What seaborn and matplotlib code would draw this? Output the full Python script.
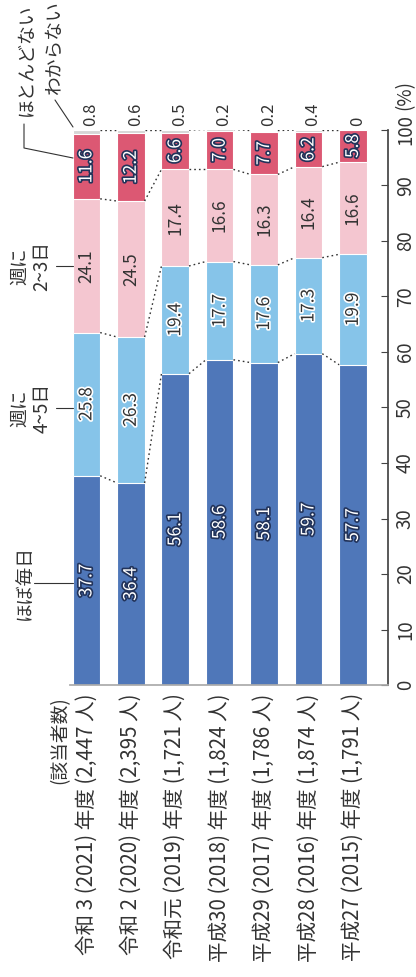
import numpy as np
import pandas as pd
import matplotlib
matplotlib.use("Agg")
import matplotlib.pyplot as plt
import matplotlib.patheffects as pe
import seaborn as sns

sns.set_theme(style="white")
plt.rcParams["font.family"] = ["Noto Sans CJK JP", "DejaVu Sans"]

# Survey years (row order: newest first) and respondent counts
years = ["令和 3 (2021) 年度", "令和 2 (2020) 年度", "令和元 (2019) 年度",
         "平成30 (2018) 年度", "平成29 (2017) 年度", "平成28 (2016) 年度",
         "平成27 (2015) 年度"]
counts = ["2,447", "2,395", "1,721", "1,824", "1,786", "1,874", "1,791"]

# Share of answers (%) per year
almost_daily = [37.7, 36.4, 56.1, 58.6, 58.1, 59.7, 57.7]
four_five = [25.8, 26.3, 19.4, 17.7, 17.6, 17.3, 19.9]
two_three = [24.1, 24.5, 17.4, 16.6, 16.3, 16.4, 16.6]
rarely = [11.6, 12.2, 6.6, 7.0, 7.7, 6.2, 5.8]
unknown = [0.8, 0.6, 0.5, 0.2, 0.2, 0.4, 0.0]

series_names = ["ほぼ毎日", "週に4~5日", "週に2~3日", "ほとんどない", "わからない"]
series_vals = [almost_daily, four_five, two_three, rarely, unknown]
colors = ["#4f77b9", "#86c4e9", "#f4c6d0", "#dc5873", "#d6d6d6"]

cat_labels = [f"{y} ({c} 人)" for y, c in zip(years, counts)]
vals = np.array(series_vals)
cum = np.cumsum(vals, axis=0)

fig = plt.figure(figsize=(4.16, 9.77), dpi=100)
ax = fig.add_axes([70 / 416, 292 / 977, 318 / 416, 555 / 977])

bar_w = 0.62
# stacked bars: draw cumulative totals from the top segment down
for k in range(len(series_names) - 1, -1, -1):
    df = pd.DataFrame({"cat": cat_labels, "val": cum[k]})
    sns.barplot(data=df, x="cat", y="val", order=cat_labels, color=colors[k],
                width=bar_w, saturation=1, edgecolor="white", linewidth=0.8,
                ax=ax, zorder=2)

ax.set_ylim(0, 100)
ax.set_xlim(-0.37, 6.79)
ax.set_xlabel("")
ax.set_ylabel("")

# dotted connectors between neighbouring bars
for k in [0, 1, 2, 4]:
    for i in range(len(cat_labels) - 1):
        ax.plot([i + bar_w / 2, i + 1 - bar_w / 2], [cum[k][i], cum[k][i + 1]],
                ls=(0, (1.2, 2.2)), color="#333333", lw=1.0, zorder=3)

# value labels inside the segments
dark_stroke = [pe.withStroke(linewidth=2.4, foreground="#22335a")]
light_stroke = [pe.withStroke(linewidth=2.4, foreground="white")]
styles = [("white", dark_stroke), ("#333333", light_stroke),
          ("#333333", None), ("white", dark_stroke)]
for k in range(4):
    col, eff = styles[k]
    for i in range(len(cat_labels)):
        mid = cum[k][i] - vals[k][i] / 2
        t = ax.text(i, mid, f"{vals[k][i]:.1f}", rotation=90, ha="center",
                    va="center", fontsize=12.5, color=col, zorder=4)
        if eff:
            t.set_path_effects(eff)
for i in range(len(cat_labels)):
    txt = "0" if unknown[i] == 0 else f"{unknown[i]:.1f}"
    ax.text(i + 0.1, 100.8, txt, rotation=90, ha="center", va="bottom",
            fontsize=12, color="#333333")

# axis styling: value axis on the right, category labels below
sns.despine(ax=ax, left=True, top=True, right=False, bottom=False)
ax.yaxis.tick_right()
ax.spines["right"].set_color("#444444")
ax.spines["bottom"].set_color("#aaaaaa")
ax.set_yticks(np.arange(0, 101, 10))
ax.set_yticklabels([str(v) for v in range(0, 101, 10)], rotation=90,
                   va="center", fontsize=13.5, color="#333333")
ax.tick_params(axis="y", direction="in", length=5, width=0.8, color="#444444",
               pad=5, right=True, left=False)
ax.tick_params(axis="x", length=0, pad=6)
ax.set_xticks(range(len(cat_labels)))
ax.set_xticklabels(cat_labels, rotation=90, va="top", ha="center",
                   fontsize=14.8, color="#333333")
ax.grid(False)


def fy(py):
    return 1 - py / 977


def fx(px):
    return px / 416


# unit next to the top tick
fig.text(fx(405), fy(110), "(%)", rotation=90, ha="center", va="bottom",
         fontsize=13.5, color="#333333")

# header of the category labels
fig.text(fx(60), fy(696), "(該当者数)", rotation=90, ha="center",
         va="top", fontsize=13.5, color="#333333")

# series names with leader lines to the first bar
lc = "#333333"
fs = 13.5
fig.text(fx(24), fy(583), "ほぼ毎日", rotation=90, ha="center", va="center",
         fontsize=fs, color=lc)
fig.add_artist(plt.Line2D([fx(34), fx(73)], [fy(583), fy(583)], color=lc, lw=0.8))
fig.text(fx(31), fy(408), "週に\n4~5日", rotation=90, ha="center", va="center",
         fontsize=fs, color=lc, linespacing=1.05, multialignment="center")
fig.text(fx(31), fy(266), "週に\n2~3日", rotation=90, ha="center", va="center",
         fontsize=fs, color=lc, linespacing=1.05, multialignment="center")
fig.add_artist(plt.Line2D([fx(56), fx(73)], [fy(408), fy(408)], color=lc, lw=0.8))
fig.add_artist(plt.Line2D([fx(56), fx(73)], [fy(266), fy(266)], color=lc, lw=0.8))
fig.text(fx(26), fy(4), "ほとんどない", rotation=90, ha="center", va="top",
         fontsize=fs, color=lc)
fig.add_artist(plt.Line2D([fx(24), fx(24), fx(73)], [fy(124), fy(148), fy(158)],
                          color=lc, lw=0.8))
fig.text(fx(54), fy(0), "わからない", rotation=90, ha="center", va="top",
         fontsize=fs, color=lc)
fig.add_artist(plt.Line2D([fx(55), fx(73)], [fy(100), fy(127)], color=lc, lw=0.8))

fig.savefig("out.png", dpi=100, facecolor="white")
